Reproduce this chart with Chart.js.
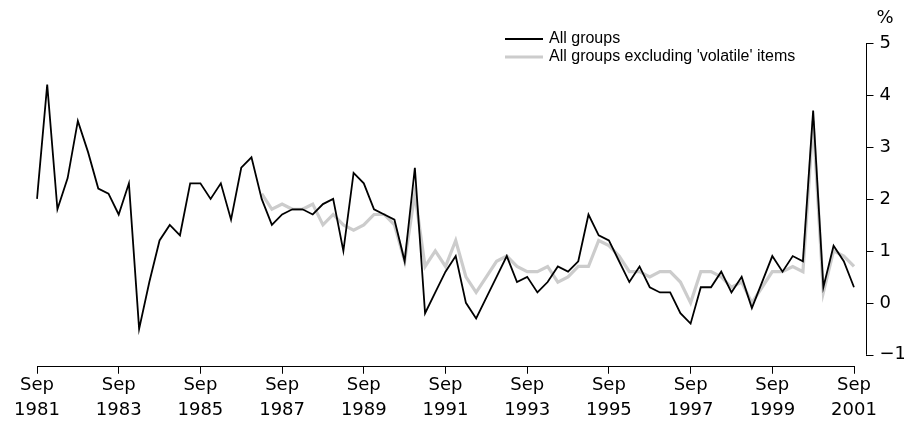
<!DOCTYPE html>
<html>
<head>
<meta charset="utf-8">
<script src="https://cdn.jsdelivr.net/npm/chart.js@4.4.1/dist/chart.umd.min.js"></script>
<style>
  html, body { margin: 0; padding: 0; background: #fff; }
  #wrap { width: 904px; height: 424px; }
</style>
</head>
<body>
<div id="wrap"><canvas id="cpi"></canvas></div>
<script>
// quarterly, Sep 1981 .. Sep 2001
const startYear = 1981;
const monthNames = ['Sep', 'Dec', 'Mar', 'Jun'];
const quarters = [];
for (let i = 0; i < 81; i++) {
    const yr = startYear + Math.floor((i + 2) / 4);
    quarters.push(monthNames[i % 4] + ' ' + yr);
}

const allGroups = [
    2.0, 4.2, 1.8, 2.4, 3.5, 2.9, 2.2, 2.1, 1.7, 2.3,
    -0.5, 0.4, 1.2, 1.5, 1.3, 2.3, 2.3, 2.0, 2.3, 1.6,
    2.6, 2.8, 2.0, 1.5, 1.7, 1.8, 1.8, 1.7, 1.9, 2.0,
    1.0, 2.5, 2.3, 1.8, 1.7, 1.6, 0.8, 2.6, -0.2, 0.2,
    0.6, 0.9, 0.0, -0.3, 0.1, 0.5, 0.9, 0.4, 0.5, 0.2,
    0.4, 0.7, 0.6, 0.8, 1.7, 1.3, 1.2, 0.8, 0.4, 0.7,
    0.3, 0.2, 0.2, -0.2, -0.4, 0.3, 0.3, 0.6, 0.2, 0.5,
    -0.1, 0.4, 0.9, 0.6, 0.9, 0.8, 3.7, 0.3, 1.1, 0.8,
    0.3
];

const exVolatile = [
    null, null, null, null, null, null, null, null, null, null,
    null, null, null, null, null, null, null, null, null, null,
    null, null, 2.1, 1.8, 1.9, 1.8, 1.8, 1.9, 1.5, 1.7,
    1.5, 1.4, 1.5, 1.7, 1.7, 1.5, 0.8, 2.1, 0.7, 1.0,
    0.7, 1.2, 0.5, 0.2, 0.5, 0.8, 0.9, 0.7, 0.6, 0.6,
    0.7, 0.4, 0.5, 0.7, 0.7, 1.2, 1.1, 0.9, 0.6, 0.6,
    0.5, 0.6, 0.6, 0.4, 0.0, 0.6, 0.6, 0.5, 0.3, 0.4,
    0.0, 0.3, 0.6, 0.6, 0.7, 0.6, 3.5, 0.2, 1.0, 0.9,
    0.7
];

const yTicks = [5, 4, 3, 2, 1, 0, -1];
const yTickLabels = ['5', '4', '3', '2', '1', '0', '\u22121'];

const tickFont = '"DejaVu Sans", sans-serif';
const legendFont = '"Liberation Sans", Arial, sans-serif';

// y axis sits a little right of the plot, drawn from the y scale
const rightAxis = {
    id: 'rightAxis',
    afterDraw (chart) {
        const ctx = chart.ctx;
        const y = chart.scales.y;
        const x0 = Math.round(chart.chartArea.right + 12) + 0.5;
        ctx.save();
        ctx.strokeStyle = '#000';
        ctx.lineWidth = 1;
        ctx.beginPath();
        ctx.moveTo(x0, y.getPixelForValue(yTicks[0]));
        ctx.lineTo(x0, y.getPixelForValue(yTicks[yTicks.length - 1]));
        yTicks.forEach(v => {
            const py = Math.round(y.getPixelForValue(v)) + 0.5;
            ctx.moveTo(x0 - 0.5, py);
            ctx.lineTo(x0 + 7, py);
        });
        ctx.stroke();
        ctx.fillStyle = '#000';
        ctx.font = '18px ' + tickFont;
        ctx.textAlign = 'left';
        ctx.textBaseline = 'middle';
        yTicks.forEach((v, i) => {
            ctx.fillText(yTickLabels[i], x0 + 13, y.getPixelForValue(v));
        });
        ctx.fillText('%', x0 + 10, 18);
        ctx.restore();
    }
};

const legendBox = {
    id: 'legendBox',
    afterDraw (chart) {
        const ctx = chart.ctx;
        const items = [chart.data.datasets[0], chart.data.datasets[1]];
        const rows = [39, 57];
        ctx.save();
        items.forEach((ds, i) => {
            ctx.strokeStyle = ds.borderColor;
            ctx.lineWidth = ds.borderWidth;
            ctx.beginPath();
            ctx.moveTo(505, rows[i]);
            ctx.lineTo(543, rows[i]);
            ctx.stroke();
            ctx.fillStyle = '#000';
            ctx.font = '16px ' + legendFont;
            ctx.textAlign = 'left';
            ctx.textBaseline = 'middle';
            ctx.fillText(ds.label, 549, rows[i]);
        });
        ctx.restore();
    }
};

new Chart(document.getElementById('cpi'), {
    type: 'line',
    data: {
        labels: quarters,
        datasets: [
            {
                label: 'All groups',
                data: allGroups,
                borderColor: '#000000',
                borderWidth: 1.8,
                pointRadius: 0,
                tension: 0,
                order: 1
            },
            {
                label: 'All groups excluding \'volatile\' items',
                data: exVolatile,
                borderColor: '#cccccc',
                borderWidth: 3.2,
                pointRadius: 0,
                tension: 0,
                spanGaps: false,
                order: 2
            }
        ]
    },
    plugins: [rightAxis, legendBox],
    options: {
        responsive: true,
        maintainAspectRatio: false,
        animation: false,
        layout: {
            padding: { left: 37, right: 50, top: 43, bottom: 2 }
        },
        plugins: {
            legend: { display: false },
            tooltip: { enabled: false }
        },
        scales: {
            x: {
                type: 'category',
                offset: false,
                grid: {
                    display: true,
                    drawOnChartArea: false,
                    drawTicks: true,
                    tickLength: 7,
                    color: '#000'
                },
                border: { display: true, color: '#000', width: 1 },
                afterBuildTicks: scale => {
                    scale.ticks = scale.ticks.filter(t => t.value % 8 === 0);
                },
                ticks: {
                    autoSkip: false,
                    maxRotation: 0,
                    padding: 0,
                    color: '#000',
                    font: { family: tickFont, size: 18, lineHeight: 1.34 },
                    callback: function (value) {
                        return this.getLabelForValue(value).split(' ');
                    }
                }
            },
            y: {
                display: false,
                min: -1.23,
                max: 5
            }
        }
    }
});
</script>
</body>
</html>
